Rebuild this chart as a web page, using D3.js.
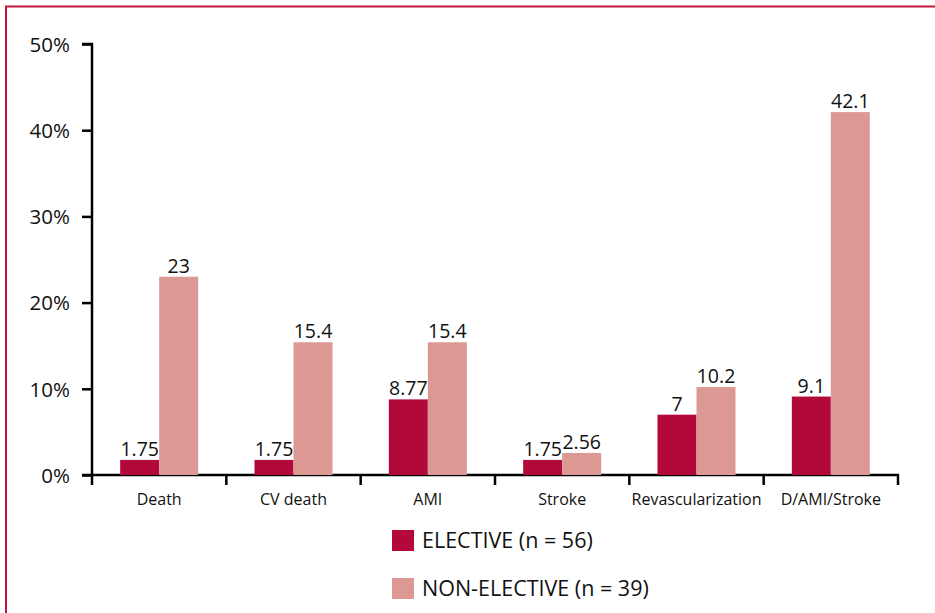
<html>
<head>
<meta charset="utf-8">
<title>Elective vs non-elective outcomes</title>
<script src="https://d3js.org/d3.v7.min.js"></script>
<style>
body { margin: 0; background: #fff; }
svg text { font-family: "Open Sans", "Noto Sans", sans-serif; fill: #111; }
</style>
</head>
<body>
<div id="chart"></div>
<script>
var categories = ["Death", "CV death", "AMI", "Stroke", "Revascularization", "D/AMI/Stroke"];
var elective = [1.75, 1.75, 8.77, 1.75, 7, 9.1];
var nonElective = [23, 15.4, 15.4, 2.56, 10.2, 42.1];
var seriesNames = ["ELECTIVE (n = 56)", "NON-ELECTIVE (n = 39)"];
var yTicks = [0, 10, 20, 30, 40, 50];

var width = 935, height = 613;
var colors = ["#b3093a", "#dc9893"];

var svg = d3.select("#chart").append("svg")
  .attr("width", width)
  .attr("height", height);

// frame
svg.append("path")
  .attr("d", "M6," + height + "V6.5H" + width)
  .attr("fill", "none")
  .attr("stroke", "#c0143c")
  .attr("stroke-width", 2);

var x0 = 92, x1 = 898, yTop = 44, yBot = 475;

var x = d3.scaleBand().domain(categories).range([x0, x1]);
var y = d3.scaleLinear().domain([0, 50]).range([yBot, yTop]);
var barW = 39;

// y axis
var yAxis = svg.append("g").attr("transform", "translate(" + x0 + ",0)")
  .call(d3.axisLeft(y).tickValues(yTicks).tickSize(10).tickPadding(12)
    .tickFormat(function(d){ return d + "%"; }));
yAxis.select(".domain").attr("stroke", "#000").attr("stroke-width", 2.5)
  .attr("d", "M-10," + yTop + "H0V" + yBot);
yAxis.selectAll(".tick line").attr("stroke", "#000").attr("stroke-width", 2.5);
yAxis.selectAll(".tick text").style("font-size", "20.5px").attr("dy", "0.36em");

// x axis
var xAxis = svg.append("g").attr("transform", "translate(0," + yBot + ")");
xAxis.append("line").attr("x1", x0 - 10).attr("x2", x1 + 1)
  .attr("stroke", "#000").attr("stroke-width", 2.5);
var bounds = categories.map(function(c){ return x(c); }).concat([x1]);
xAxis.selectAll(".xt").data(bounds).enter().append("line")
  .attr("x1", function(d){ return d; }).attr("x2", function(d){ return d; })
  .attr("y1", 0).attr("y2", 10)
  .attr("stroke", "#000").attr("stroke-width", 2.5);
xAxis.selectAll(".xl").data(categories).enter().append("text")
  .attr("x", function(d){ return x(d) + x.bandwidth() / 2; })
  .attr("y", 30)
  .attr("text-anchor", "middle")
  .style("font-size", "16px")
  .text(function(d){ return d; });

// bars
var series = [elective, nonElective];
series.forEach(function(vals, s) {
  var g = svg.append("g");
  g.selectAll("rect").data(vals).enter().append("rect")
    .attr("x", function(d, i){ return x(categories[i]) + x.bandwidth() / 2 - barW + s * barW; })
    .attr("y", function(d){ return y(d); })
    .attr("width", barW)
    .attr("height", function(d){ return yBot - y(d); })
    .attr("fill", colors[s]);
  g.selectAll("text").data(vals).enter().append("text")
    .attr("x", function(d, i){ return x(categories[i]) + x.bandwidth() / 2 - barW / 2 + s * barW; })
    .attr("y", function(d){ return y(d) - 4; })
    .attr("text-anchor", "middle")
    .style("font-size", "19.5px")
    .text(function(d){ return d; });
});

// legend
var legend = svg.append("g").attr("transform", "translate(392,530)");
seriesNames.forEach(function(name, i) {
  legend.append("rect").attr("x", 0).attr("y", i * 48)
    .attr("width", 22).attr("height", 21).attr("fill", colors[i]);
  legend.append("text").attr("x", 30).attr("y", i * 48 + 18)
    .style("font-size", "21.5px").text(name);
});
</script>
</body>
</html>
